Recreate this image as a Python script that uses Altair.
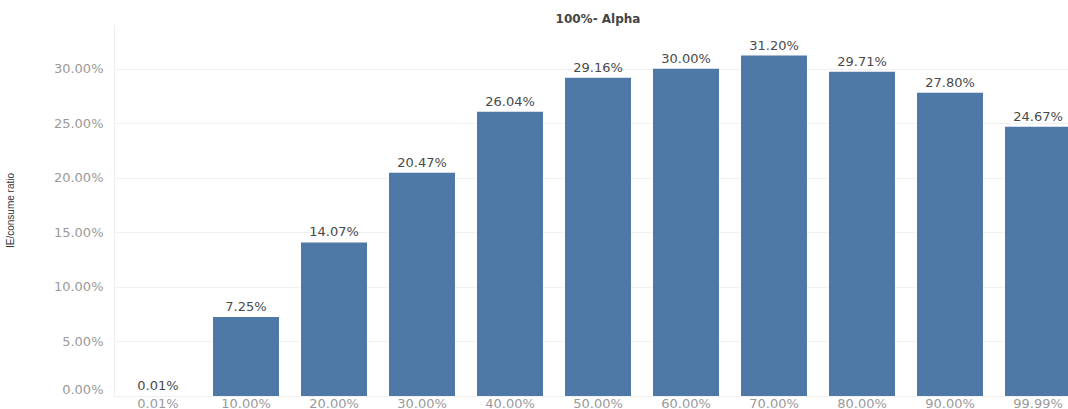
import altair as alt
import pandas as pd

categories = ["0.01%", "10.00%", "20.00%", "30.00%", "40.00%", "50.00%",
              "60.00%", "70.00%", "80.00%", "90.00%", "99.99%"]
values = [0.0001, 0.0725, 0.1407, 0.2047, 0.2604, 0.2916,
          0.3000, 0.3120, 0.2971, 0.2780, 0.2467]

df = pd.DataFrame({"cat": categories, "val": values})

FONT = "DejaVu Sans"

x = alt.X("cat:N", sort=categories, title=None,
          scale=alt.Scale(range=[0, 968], paddingInner=0.25, paddingOuter=0.125),
          axis=alt.Axis(labelAngle=0, ticks=False, labelColor="#9a9a9a",
                        labelFont=FONT, labelFontSize=13, labelPadding=1,
                        domain=False, grid=False))

y = alt.Y("val:Q", title="IE/consume ratio",
          scale=alt.Scale(domain=[0, 0.34], nice=False, zero=True),
          axis=alt.Axis(format=".2%", values=[0, 0.05, 0.10, 0.15, 0.20, 0.25, 0.30],
                        ticks=False, labelColor="#9a9a9a", labelFont=FONT,
                        labelFontSize=13, labelPadding=11, labelFlush=True,
                        domain=True, domainColor="#eeeeee",
                        grid=True, gridColor="#f0f0f0",
                        titleFont="Liberation Sans", titleFontSize=10,
                        titleFontWeight="normal", titleColor="#333333",
                        titleX=-104, titleY=185, titleBaseline="middle",
                        titleAngle=270, titleAlign="center"))

bars = alt.Chart(df).mark_bar(color="#4e79a7").encode(x=x, y=y)

labels = alt.Chart(df).mark_text(
    baseline="bottom", dy=-3, font=FONT, fontSize=13, color="#4a4a4a"
).encode(x=x, y=y, text=alt.Text("val:Q", format=".2%"))

chart = (bars + labels).properties(
    width=954, height=371,
    background="white",
    title=alt.TitleParams("100%- Alpha", font=FONT, fontSize=12, fontWeight="bold",
                          color="#444444", anchor="middle", dx=7, dy=4, offset=3),
    autosize=alt.AutoSizeParams(type="none"),
    padding={"left": 114, "top": 25, "right": 0, "bottom": 13},
).configure_view(stroke=None, strokeWidth=0)

chart.save("out.html", embed_options={"renderer": "svg", "actions": False})
